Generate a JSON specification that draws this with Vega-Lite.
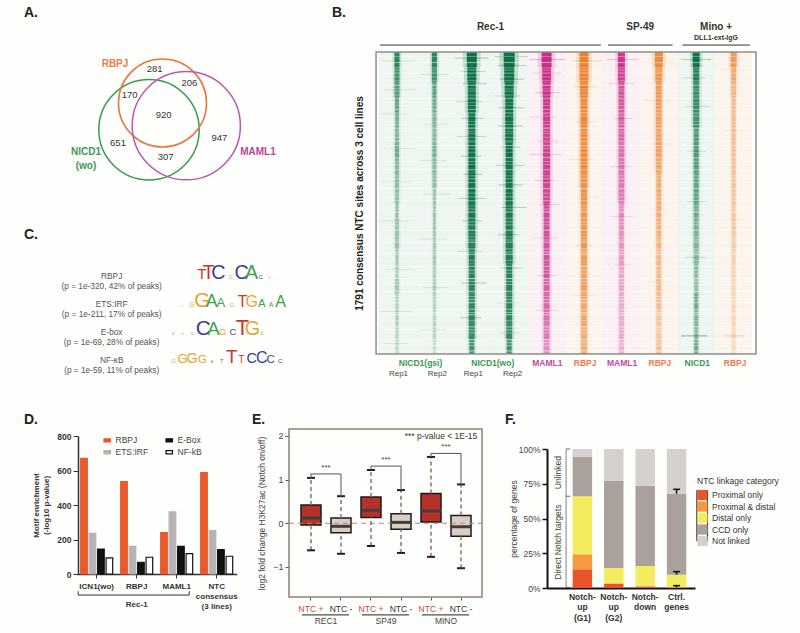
{"$schema":"https://vega.github.io/schema/vega-lite/v6.json","padding":0,"background":"#fefefc","spacing":0,
"resolve":{"scale":{"color":"independent","stroke":"independent","size":"independent","opacity":"independent","strokeWidth":"independent"}},
"config":{"view":{"stroke":null},"font":"Liberation Sans","axis":{"labelFont":"Liberation Sans","titleFont":"Liberation Sans"},"legend":{"labelFont":"Liberation Sans","titleFont":"Liberation Sans"},"title":{"font":"Liberation Sans","fontSize":14,"fontWeight":"bold","color":"#222","anchor":"start","frame":"group"}},
"datasets":{
"venn":[{"set":"NICD1","x":149,"y":129.7,"total":2048},{"set":"RBPJ","x":162.5,"y":103,"total":1577},{"set":"MAML1","x":186.3,"y":125.7,"total":2380}],
"counts":[{"n":"281","x":154.7,"y":69},{"n":"206","x":189.3,"y":83},{"n":"170","x":129.7,"y":94.7},{"n":"920","x":163.7,"y":115},{"n":"651","x":118,"y":143},{"n":"947","x":219.3,"y":137.7},{"n":"307","x":165.7,"y":156.7}],
"setnames":[{"set":"RBPJ","n":"RBPJ","x":115,"y":64.3},{"set":"NICD1","n":"NICD1","x":86,"y":152},{"set":"NICD1","n":"(wo)","x":86,"y":165.7},{"set":"MAML1","n":"MAML1","x":258,"y":152}],
"motiflabels":[{"line":0,"n":"RBPJ\n(p = 1e-320, 42% of peaks)"},{"line":1,"n":"ETS:IRF\n(p = 1e-211, 17% of peaks)"},{"line":2,"n":"E-box\n(p = 1e-69, 28% of peaks)"},{"line":3,"n":"NF-κB\n(p = 1e-59, 11% of peaks)"}],
"logo":[{"line":0,"p":2.3,"l":"A","h":0.15},{"line":0,"p":3.4,"l":"T","h":1.45},{"line":0,"p":4.1,"l":"T","h":1.9},{"line":0,"p":5.1,"l":"C","h":1.9},{"line":0,"p":6.4,"l":"G","h":0.5},{"line":0,"p":7.5,"l":"C","h":1.9},{"line":0,"p":8.55,"l":"A","h":1.9},{"line":0,"p":9.5,"l":"C","h":0.55},{"line":0,"p":10.4,"l":"G","h":0.3},{"line":0,"p":11.3,"l":"A","h":0.2},
{"line":1,"p":0.5,"l":"A","h":0.15},{"line":1,"p":1.3,"l":"C","h":0.15},{"line":1,"p":2.4,"l":"G","h":0.65},{"line":1,"p":3.45,"l":"G","h":2},{"line":1,"p":4.4,"l":"A","h":1.7},{"line":1,"p":5.35,"l":"A","h":1.25},{"line":1,"p":6.5,"l":"G","h":0.5},{"line":1,"p":7.6,"l":"T","h":1.55},{"line":1,"p":8.55,"l":"G","h":1.55},{"line":1,"p":9.6,"l":"A","h":1.1},{"line":1,"p":10.55,"l":"A","h":0.65},{"line":1,"p":11.55,"l":"A","h":1.55},
{"line":2,"p":0.45,"l":"C","h":0.3},{"line":2,"p":1.4,"l":"G","h":0.3},{"line":2,"p":2.4,"l":"C","h":0.3},{"line":2,"p":3.55,"l":"C","h":2},{"line":2,"p":4.6,"l":"A","h":1.8},{"line":2,"p":5.55,"l":"G","h":0.9},{"line":2,"p":6.6,"l":"C","h":0.9},{"line":2,"p":7.6,"l":"T","h":2.1},{"line":2,"p":8.62,"l":"G","h":1.9},{"line":2,"p":9.6,"l":"C","h":0.35},
{"line":3,"p":0.45,"l":"G","h":0.55},{"line":3,"p":1.4,"l":"G","h":1.25},{"line":3,"p":2.4,"l":"G","h":1.4},{"line":3,"p":3.45,"l":"G","h":1.1},{"line":3,"p":4.45,"l":"A","h":0.35},{"line":3,"p":5.45,"l":"T","h":0.55},{"line":3,"p":6.5,"l":"T","h":1.8},{"line":3,"p":7.5,"l":"T","h":1},{"line":3,"p":8.55,"l":"C","h":1.4},{"line":3,"p":9.6,"l":"C","h":1.55},{"line":3,"p":10.5,"l":"C","h":1.1},{"line":3,"p":11.5,"l":"C","h":0.6}],
"heat":[
{"t":0,"y":0,"z":1,"w":5,"v":0.8},{"t":0,"y":1,"z":2,"w":5,"v":0.7},{"t":0,"y":2,"z":3,"w":5,"v":0.6},{"t":0,"y":3,"z":4,"w":4,"v":0.55},{"t":0,"y":4,"z":5,"w":4,"v":0.45},{"t":0,"y":5,"z":6,"w":4,"v":0.42},{"t":0,"y":6,"z":7,"w":4,"v":0.5},{"t":0,"y":7,"z":8,"w":4,"v":0.4},{"t":0,"y":8,"z":9,"w":4,"v":0.38},{"t":0,"y":9,"z":10,"w":4,"v":0.35},{"t":0,"y":10,"z":11,"w":3,"v":0.36},{"t":0,"y":11,"z":12,"w":4,"v":0.3},{"t":0,"y":12,"z":13,"w":4,"v":0.33},{"t":0,"y":13,"z":14,"w":3,"v":0.3},{"t":0,"y":14,"z":15,"w":3,"v":0.25},{"t":0,"y":15,"z":16,"w":4,"v":0.28},{"t":0,"y":16,"z":17,"w":3,"v":0.22},{"t":0,"y":17,"z":18,"w":3,"v":0.25},{"t":0,"y":18,"z":19,"w":3,"v":0.2},{"t":0,"y":19,"z":20,"w":3,"v":0.18},
{"t":1,"y":0,"z":1,"w":5,"v":0.8},{"t":1,"y":1,"z":2,"w":5,"v":0.7},{"t":1,"y":2,"z":3,"w":4,"v":0.6},{"t":1,"y":3,"z":4,"w":4,"v":0.5},{"t":1,"y":4,"z":5,"w":4,"v":0.42},{"t":1,"y":5,"z":6,"w":4,"v":0.4},{"t":1,"y":6,"z":7,"w":4,"v":0.45},{"t":1,"y":7,"z":8,"w":4,"v":0.38},{"t":1,"y":8,"z":9,"w":4,"v":0.36},{"t":1,"y":9,"z":10,"w":3,"v":0.32},{"t":1,"y":10,"z":11,"w":3,"v":0.3},{"t":1,"y":11,"z":12,"w":3,"v":0.3},{"t":1,"y":12,"z":13,"w":3,"v":0.28},{"t":1,"y":13,"z":14,"w":3,"v":0.3},{"t":1,"y":14,"z":15,"w":3,"v":0.25},{"t":1,"y":15,"z":16,"w":3,"v":0.25},{"t":1,"y":16,"z":17,"w":3,"v":0.22},{"t":1,"y":17,"z":18,"w":3,"v":0.2},{"t":1,"y":18,"z":19,"w":3,"v":0.2},{"t":1,"y":19,"z":20,"w":3,"v":0.15},
{"t":2,"y":0,"z":1,"w":10,"v":0.98},{"t":2,"y":1,"z":2,"w":9,"v":0.98},{"t":2,"y":2,"z":3,"w":8,"v":0.97},{"t":2,"y":3,"z":4,"w":8,"v":0.97},{"t":2,"y":4,"z":5,"w":7,"v":0.96},{"t":2,"y":5,"z":6,"w":7,"v":0.95},{"t":2,"y":6,"z":7,"w":7,"v":0.95},{"t":2,"y":7,"z":8,"w":7,"v":0.95},{"t":2,"y":8,"z":9,"w":7,"v":0.93},{"t":2,"y":9,"z":10,"w":7,"v":0.93},{"t":2,"y":10,"z":11,"w":7,"v":0.92},{"t":2,"y":11,"z":12,"w":7,"v":0.88},{"t":2,"y":12,"z":13,"w":7,"v":0.85},{"t":2,"y":13,"z":14,"w":6,"v":0.85},{"t":2,"y":14,"z":15,"w":6,"v":0.82},{"t":2,"y":15,"z":16,"w":6,"v":0.8},{"t":2,"y":16,"z":17,"w":6,"v":0.78},{"t":2,"y":17,"z":18,"w":6,"v":0.8},{"t":2,"y":18,"z":19,"w":6,"v":0.75},{"t":2,"y":19,"z":20,"w":5,"v":0.7},
{"t":3,"y":0,"z":1,"w":11,"v":0.98},{"t":3,"y":1,"z":2,"w":10,"v":0.98},{"t":3,"y":2,"z":3,"w":9,"v":0.97},{"t":3,"y":3,"z":4,"w":8,"v":0.97},{"t":3,"y":4,"z":5,"w":8,"v":0.96},{"t":3,"y":5,"z":6,"w":8,"v":0.95},{"t":3,"y":6,"z":7,"w":7,"v":0.95},{"t":3,"y":7,"z":8,"w":7,"v":0.94},{"t":3,"y":8,"z":9,"w":7,"v":0.93},{"t":3,"y":9,"z":10,"w":7,"v":0.92},{"t":3,"y":10,"z":11,"w":7,"v":0.9},{"t":3,"y":11,"z":12,"w":7,"v":0.88},{"t":3,"y":12,"z":13,"w":7,"v":0.88},{"t":3,"y":13,"z":14,"w":7,"v":0.85},{"t":3,"y":14,"z":15,"w":6,"v":0.82},{"t":3,"y":15,"z":16,"w":6,"v":0.82},{"t":3,"y":16,"z":17,"w":6,"v":0.8},{"t":3,"y":17,"z":18,"w":6,"v":0.78},{"t":3,"y":18,"z":19,"w":6,"v":0.75},{"t":3,"y":19,"z":20,"w":5,"v":0.7},
{"t":4,"y":0,"z":1,"w":10,"v":0.9},{"t":4,"y":1,"z":2,"w":9,"v":0.9},{"t":4,"y":2,"z":3,"w":8,"v":0.88},{"t":4,"y":3,"z":4,"w":7,"v":0.85},{"t":4,"y":4,"z":5,"w":7,"v":0.82},{"t":4,"y":5,"z":6,"w":7,"v":0.8},{"t":4,"y":6,"z":7,"w":7,"v":0.78},{"t":4,"y":7,"z":8,"w":7,"v":0.8},{"t":4,"y":8,"z":9,"w":7,"v":0.78},{"t":4,"y":9,"z":10,"w":7,"v":0.75},{"t":4,"y":10,"z":11,"w":6,"v":0.75},{"t":4,"y":11,"z":12,"w":6,"v":0.72},{"t":4,"y":12,"z":13,"w":6,"v":0.7},{"t":4,"y":13,"z":14,"w":6,"v":0.68},{"t":4,"y":14,"z":15,"w":6,"v":0.68},{"t":4,"y":15,"z":16,"w":6,"v":0.62},{"t":4,"y":16,"z":17,"w":6,"v":0.6},{"t":4,"y":17,"z":18,"w":6,"v":0.55},{"t":4,"y":18,"z":19,"w":6,"v":0.5},{"t":4,"y":19,"z":20,"w":6,"v":0.42},
{"t":5,"y":0,"z":1,"w":9,"v":0.9},{"t":5,"y":1,"z":2,"w":9,"v":0.88},{"t":5,"y":2,"z":3,"w":8,"v":0.85},{"t":5,"y":3,"z":4,"w":7,"v":0.82},{"t":5,"y":4,"z":5,"w":7,"v":0.82},{"t":5,"y":5,"z":6,"w":7,"v":0.8},{"t":5,"y":6,"z":7,"w":7,"v":0.8},{"t":5,"y":7,"z":8,"w":7,"v":0.78},{"t":5,"y":8,"z":9,"w":7,"v":0.75},{"t":5,"y":9,"z":10,"w":6,"v":0.75},{"t":5,"y":10,"z":11,"w":6,"v":0.7},{"t":5,"y":11,"z":12,"w":6,"v":0.7},{"t":5,"y":12,"z":13,"w":6,"v":0.68},{"t":5,"y":13,"z":14,"w":6,"v":0.65},{"t":5,"y":14,"z":15,"w":6,"v":0.6},{"t":5,"y":15,"z":16,"w":6,"v":0.62},{"t":5,"y":16,"z":17,"w":6,"v":0.58},{"t":5,"y":17,"z":18,"w":6,"v":0.55},{"t":5,"y":18,"z":19,"w":6,"v":0.52},{"t":5,"y":19,"z":20,"w":6,"v":0.5},
{"t":6,"y":0,"z":1,"w":7,"v":0.85},{"t":6,"y":1,"z":2,"w":7,"v":0.8},{"t":6,"y":2,"z":3,"w":6,"v":0.7},{"t":6,"y":3,"z":4,"w":6,"v":0.68},{"t":6,"y":4,"z":5,"w":6,"v":0.62},{"t":6,"y":5,"z":6,"w":6,"v":0.6},{"t":6,"y":6,"z":7,"w":6,"v":0.55},{"t":6,"y":7,"z":8,"w":6,"v":0.52},{"t":6,"y":8,"z":9,"w":6,"v":0.5},{"t":6,"y":9,"z":10,"w":6,"v":0.5},{"t":6,"y":10,"z":11,"w":5,"v":0.42},{"t":6,"y":11,"z":12,"w":5,"v":0.4},{"t":6,"y":12,"z":13,"w":5,"v":0.38},{"t":6,"y":13,"z":14,"w":5,"v":0.35},{"t":6,"y":14,"z":15,"w":5,"v":0.3},{"t":6,"y":15,"z":16,"w":5,"v":0.3},{"t":6,"y":16,"z":17,"w":5,"v":0.28},{"t":6,"y":17,"z":18,"w":5,"v":0.28},{"t":6,"y":18,"z":19,"w":5,"v":0.28},{"t":6,"y":19,"z":20,"w":5,"v":0.25},
{"t":7,"y":0,"z":1,"w":8,"v":0.8},{"t":7,"y":1,"z":2,"w":7,"v":0.72},{"t":7,"y":2,"z":3,"w":6,"v":0.68},{"t":7,"y":3,"z":4,"w":6,"v":0.65},{"t":7,"y":4,"z":5,"w":6,"v":0.62},{"t":7,"y":5,"z":6,"w":6,"v":0.6},{"t":7,"y":6,"z":7,"w":6,"v":0.6},{"t":7,"y":7,"z":8,"w":6,"v":0.55},{"t":7,"y":8,"z":9,"w":5,"v":0.52},{"t":7,"y":9,"z":10,"w":5,"v":0.52},{"t":7,"y":10,"z":11,"w":5,"v":0.5},{"t":7,"y":11,"z":12,"w":5,"v":0.48},{"t":7,"y":12,"z":13,"w":5,"v":0.45},{"t":7,"y":13,"z":14,"w":5,"v":0.42},{"t":7,"y":14,"z":15,"w":5,"v":0.4},{"t":7,"y":15,"z":16,"w":5,"v":0.4},{"t":7,"y":16,"z":17,"w":5,"v":0.38},{"t":7,"y":17,"z":18,"w":5,"v":0.32},{"t":7,"y":18,"z":19,"w":5,"v":0.3},{"t":7,"y":19,"z":20,"w":5,"v":0.35},
{"t":8,"y":0,"z":1,"w":7,"v":0.95},{"t":8,"y":1,"z":2,"w":6,"v":0.85},{"t":8,"y":2,"z":3,"w":6,"v":0.75},{"t":8,"y":3,"z":4,"w":6,"v":0.75},{"t":8,"y":4,"z":5,"w":6,"v":0.7},{"t":8,"y":5,"z":6,"w":5,"v":0.65},{"t":8,"y":6,"z":7,"w":5,"v":0.65},{"t":8,"y":7,"z":8,"w":5,"v":0.6},{"t":8,"y":8,"z":9,"w":5,"v":0.55},{"t":8,"y":9,"z":10,"w":5,"v":0.55},{"t":8,"y":10,"z":11,"w":5,"v":0.5},{"t":8,"y":11,"z":12,"w":5,"v":0.45},{"t":8,"y":12,"z":13,"w":5,"v":0.42},{"t":8,"y":13,"z":14,"w":5,"v":0.4},{"t":8,"y":14,"z":15,"w":4,"v":0.38},{"t":8,"y":15,"z":16,"w":4,"v":0.35},{"t":8,"y":16,"z":17,"w":4,"v":0.5},{"t":8,"y":17,"z":18,"w":4,"v":0.42},{"t":8,"y":18,"z":19,"w":4,"v":0.4},{"t":8,"y":19,"z":20,"w":4,"v":0.5},
{"t":9,"y":0,"z":1,"w":6,"v":0.65},{"t":9,"y":1,"z":2,"w":5,"v":0.55},{"t":9,"y":2,"z":3,"w":5,"v":0.45},{"t":9,"y":3,"z":4,"w":4,"v":0.42},{"t":9,"y":4,"z":5,"w":4,"v":0.4},{"t":9,"y":5,"z":6,"w":4,"v":0.4},{"t":9,"y":6,"z":7,"w":4,"v":0.38},{"t":9,"y":7,"z":8,"w":4,"v":0.35},{"t":9,"y":8,"z":9,"w":4,"v":0.35},{"t":9,"y":9,"z":10,"w":4,"v":0.33},{"t":9,"y":10,"z":11,"w":4,"v":0.32},{"t":9,"y":11,"z":12,"w":4,"v":0.3},{"t":9,"y":12,"z":13,"w":4,"v":0.28},{"t":9,"y":13,"z":14,"w":4,"v":0.25},{"t":9,"y":14,"z":15,"w":4,"v":0.22},{"t":9,"y":15,"z":16,"w":4,"v":0.2},{"t":9,"y":16,"z":17,"w":4,"v":0.2},{"t":9,"y":17,"z":18,"w":4,"v":0.2},{"t":9,"y":18,"z":19,"w":4,"v":0.2},{"t":9,"y":19,"z":20,"w":4,"v":0.18}],
"spikes":[{"t":2,"a":1.55,"b":2.45,"s":0.4,"o":0.5},{"t":3,"a":2.6,"b":3.5,"s":0.3,"o":0.55},{"t":3,"a":2.7,"b":3.45,"s":0.9,"o":0.4},{"t":2,"a":1.7,"b":2.35,"s":1.3,"o":0.4},{"t":3,"a":2.75,"b":3.4,"s":1.8,"o":0.5},{"t":2,"a":1.75,"b":2.4,"s":2.1,"o":0.45},{"t":3,"a":2.6,"b":3.3,"s":2.9,"o":0.35},{"t":2,"a":1.6,"b":2.3,"s":3.3,"o":0.4},{"t":3,"a":2.72,"b":3.4,"s":3.7,"o":0.5},{"t":2,"a":1.72,"b":2.3,"s":4.4,"o":0.45},{"t":3,"a":2.7,"b":3.35,"s":4.9,"o":0.5},{"t":2,"a":1.6,"b":2.38,"s":5.6,"o":0.35},{"t":3,"a":2.78,"b":3.3,"s":6.3,"o":0.4},{"t":2,"a":1.7,"b":2.25,"s":6.9,"o":0.45},{"t":3,"a":2.65,"b":3.42,"s":7.5,"o":0.45},{"t":2,"a":1.78,"b":2.28,"s":8.1,"o":0.5},{"t":3,"a":2.72,"b":3.35,"s":8.8,"o":0.5},{"t":2,"a":1.65,"b":2.36,"s":9.7,"o":0.4},{"t":3,"a":2.8,"b":3.45,"s":10.3,"o":0.45},{"t":2,"a":1.75,"b":2.28,"s":11.2,"o":0.5},{"t":3,"a":2.7,"b":3.25,"s":12.1,"o":0.45},{"t":2,"a":1.62,"b":2.3,"s":13.2,"o":0.4},{"t":3,"a":2.76,"b":3.35,"s":14.3,"o":0.4},{"t":2,"a":1.72,"b":2.4,"s":15.3,"o":0.45},{"t":3,"a":2.68,"b":3.28,"s":16.6,"o":0.35},{"t":2,"a":1.7,"b":2.25,"s":17.6,"o":0.45},{"t":3,"a":2.76,"b":3.3,"s":18.6,"o":0.35},
{"t":0,"a":-0.4,"b":0.45,"s":0.6,"o":0.2},{"t":1,"a":0.65,"b":1.4,"s":1.5,"o":0.22},{"t":0,"a":-0.35,"b":0.5,"s":2.5,"o":0.2},{"t":0,"a":-0.45,"b":0.3,"s":4.1,"o":0.22},{"t":1,"a":0.7,"b":1.35,"s":4.8,"o":0.2},{"t":0,"a":-0.2,"b":0.5,"s":6.4,"o":0.25},{"t":1,"a":0.6,"b":1.3,"s":7.2,"o":0.2},{"t":0,"a":-0.4,"b":0.4,"s":8.6,"o":0.18},{"t":1,"a":0.7,"b":1.45,"s":9.4,"o":0.2},{"t":0,"a":-0.5,"b":0.35,"s":11.2,"o":0.22},{"t":1,"a":0.6,"b":1.3,"s":12.4,"o":0.2},{"t":0,"a":-0.3,"b":0.45,"s":14.4,"o":0.2},{"t":1,"a":0.7,"b":1.35,"s":15.6,"o":0.2},{"t":0,"a":-0.45,"b":0.4,"s":17.2,"o":0.22},{"t":1,"a":0.65,"b":1.3,"s":18.4,"o":0.2},{"t":0,"a":-0.35,"b":0.3,"s":19.3,"o":0.22},
{"t":4,"a":3.55,"b":4.5,"s":0.5,"o":0.5},{"t":4,"a":3.6,"b":4.4,"s":1.4,"o":0.35},{"t":4,"a":3.7,"b":4.35,"s":2.7,"o":0.4},{"t":4,"a":3.55,"b":4.25,"s":4.3,"o":0.35},{"t":4,"a":3.75,"b":4.3,"s":5.9,"o":0.45},{"t":4,"a":3.55,"b":4.4,"s":6.8,"o":0.35},{"t":4,"a":3.7,"b":4.25,"s":8.5,"o":0.35},{"t":4,"a":3.8,"b":4.35,"s":10.1,"o":0.35},{"t":4,"a":3.65,"b":4.3,"s":12.3,"o":0.3},{"t":4,"a":3.75,"b":4.25,"s":14.8,"o":0.3},{"t":4,"a":3.7,"b":4.3,"s":17.1,"o":0.3},
{"t":5,"a":4.65,"b":5.5,"s":0.6,"o":0.4},{"t":5,"a":4.7,"b":5.35,"s":2.3,"o":0.35},{"t":5,"a":4.75,"b":5.3,"s":4.6,"o":0.3},{"t":5,"a":4.6,"b":5.25,"s":7.1,"o":0.3},{"t":5,"a":4.8,"b":5.4,"s":9.6,"o":0.3},{"t":5,"a":4.75,"b":5.25,"s":12.8,"o":0.28},{"t":5,"a":4.7,"b":5.3,"s":16.1,"o":0.25},
{"t":6,"a":5.6,"b":6.45,"s":0.5,"o":0.4},{"t":6,"a":5.65,"b":6.35,"s":2.1,"o":0.3},{"t":6,"a":5.8,"b":6.3,"s":4.4,"o":0.3},{"t":6,"a":5.7,"b":6.25,"s":7.6,"o":0.3},{"t":6,"a":5.75,"b":6.3,"s":10.9,"o":0.25},{"t":6,"a":5.8,"b":6.25,"s":14.1,"o":0.22},
{"t":7,"a":6.55,"b":7.45,"s":0.7,"o":0.35},{"t":7,"a":6.6,"b":7.3,"s":3.2,"o":0.28},{"t":7,"a":6.8,"b":7.3,"s":6.1,"o":0.28},{"t":7,"a":6.75,"b":7.25,"s":10.4,"o":0.25},{"t":7,"a":6.7,"b":7.3,"s":15.2,"o":0.22},
{"t":8,"a":7.6,"b":8.4,"s":0.5,"o":0.45},{"t":8,"a":7.65,"b":8.25,"s":1.7,"o":0.3},{"t":8,"a":7.7,"b":8.35,"s":3.6,"o":0.3},{"t":8,"a":7.75,"b":8.25,"s":6.6,"o":0.3},{"t":8,"a":7.75,"b":8.3,"s":9.9,"o":0.28},{"t":8,"a":7.7,"b":8.25,"s":13.6,"o":0.28},{"t":8,"a":7.6,"b":8.3,"s":18.8,"o":0.8},{"t":9,"a":8.75,"b":9.3,"s":18.8,"o":0.5},{"t":9,"a":8.65,"b":9.4,"s":1.2,"o":0.25},{"t":9,"a":8.7,"b":9.35,"s":5.2,"o":0.2},{"t":9,"a":8.8,"b":9.3,"s":11.1,"o":0.18}],
"streaks":[{"s":0.3,"o":0.3},{"s":0.7,"o":0.5},{"s":1.05,"o":0.25},{"s":1.2,"o":0.3},{"s":1.4,"o":0.45},{"s":1.65,"o":0.3},{"s":1.9,"o":0.3},{"s":2.2,"o":0.55},{"s":2.45,"o":0.3},{"s":2.6,"o":0.3},{"s":2.85,"o":0.35},{"s":3.1,"o":0.4},{"s":3.35,"o":0.25},{"s":3.55,"o":0.3},{"s":3.8,"o":0.5},{"s":4.05,"o":0.35},{"s":4.25,"o":0.35},{"s":4.6,"o":0.25},{"s":4.8,"o":0.35},{"s":5.05,"o":0.5},{"s":5.25,"o":0.3},{"s":5.4,"o":0.3},{"s":5.65,"o":0.35},{"s":5.9,"o":0.4},{"s":6.2,"o":0.55},{"s":6.4,"o":0.3},{"s":6.65,"o":0.25},{"s":7.0,"o":0.45},{"s":7.25,"o":0.35},{"s":7.45,"o":0.3},{"s":7.8,"o":0.5},{"s":8.2,"o":0.3},{"s":8.4,"o":0.4},{"s":8.65,"o":0.4},{"s":9.05,"o":0.55},{"s":9.35,"o":0.3},{"s":9.6,"o":0.4},{"s":9.85,"o":0.45},{"s":10.2,"o":0.3},{"s":10.4,"o":0.4},{"s":10.6,"o":0.6},{"s":11.0,"o":0.35},{"s":11.25,"o":0.4},{"s":11.45,"o":0.4},{"s":11.8,"o":0.6},{"s":12.25,"o":0.3},{"s":12.45,"o":0.4},{"s":12.6,"o":0.5},{"s":13.05,"o":0.35},{"s":13.25,"o":0.45},{"s":13.4,"o":0.6},{"s":13.8,"o":0.3},{"s":14.2,"o":0.5},{"s":14.45,"o":0.4},{"s":14.65,"o":0.35},{"s":15.0,"o":0.6},{"s":15.2,"o":0.4},{"s":15.4,"o":0.4},{"s":15.85,"o":0.55},{"s":16.2,"o":0.35},{"s":16.4,"o":0.45},{"s":16.6,"o":0.6},{"s":17.05,"o":0.4},{"s":17.25,"o":0.45},{"s":17.4,"o":0.6},{"s":17.8,"o":0.35},{"s":18.2,"o":0.55},{"s":18.4,"o":0.45},{"s":18.6,"o":0.4},{"s":19.05,"o":0.6},{"s":19.25,"o":0.5},{"s":19.45,"o":0.45},{"s":19.8,"o":0.6}],
"tracklabels":[{"n":"NICD1(gsi)","c":"g","p":0.63},{"n":"NICD1(wo)","c":"g","p":2.56},{"n":"MAML1","c":"m","p":4.02},{"n":"RBPJ","c":"o","p":5.03},{"n":"MAML1","c":"m","p":6.02},{"n":"RBPJ","c":"o","p":7.03},{"n":"NICD1","c":"g","p":8.03},{"n":"RBPJ","c":"o","p":9.04}],
"reps":[{"n":"Rep1","p":0.04},{"n":"Rep2","p":1.08},{"n":"Rep1","p":2.04},{"n":"Rep2","p":3.09}],
"headers":[{"n":"Rec-1","a":-0.45,"b":5.45,"p":2.5},{"n":"SP-49","a":5.64,"b":7.37,"p":6.5},{"n":"Mino +","a":7.63,"b":9.44,"p":8.53}],
"motif":[{"group":"ICN1(wo)","series":"RBPJ","value":670},{"group":"ICN1(wo)","series":"ETS:IRF","value":235},{"group":"ICN1(wo)","series":"E-Box","value":145},{"group":"ICN1(wo)","series":"NF-kB","value":93},{"group":"RBPJ","series":"RBPJ","value":535},{"group":"RBPJ","series":"ETS:IRF","value":160},{"group":"RBPJ","series":"E-Box","value":68},{"group":"RBPJ","series":"NF-kB","value":97},{"group":"MAML1","series":"RBPJ","value":240},{"group":"MAML1","series":"ETS:IRF","value":360},{"group":"MAML1","series":"E-Box","value":160},{"group":"MAML1","series":"NF-kB","value":118},{"group":"NTC|consensus|(3 lines)","series":"RBPJ","value":588},{"group":"NTC|consensus|(3 lines)","series":"ETS:IRF","value":252},{"group":"NTC|consensus|(3 lines)","series":"E-Box","value":142},{"group":"NTC|consensus|(3 lines)","series":"NF-kB","value":103}],
"box":[{"k":"REC1|NTC +","cls":"NTC +","lo":-0.62,"q1":-0.04,"med":0.12,"q3":0.42,"hi":1.04},{"k":"REC1|NTC -","cls":"NTC -","lo":-0.7,"q1":-0.22,"med":-0.07,"q3":0.12,"hi":0.62},{"k":"SP49|NTC +","cls":"NTC +","lo":-0.52,"q1":0.13,"med":0.3,"q3":0.6,"hi":1.22},{"k":"SP49|NTC -","cls":"NTC -","lo":-0.68,"q1":-0.14,"med":0.02,"q3":0.22,"hi":0.76},{"k":"MINO|NTC +","cls":"NTC +","lo":-0.77,"q1":0.03,"med":0.28,"q3":0.68,"hi":1.52},{"k":"MINO|NTC -","cls":"NTC -","lo":-1.03,"q1":-0.3,"med":-0.08,"q3":0.18,"hi":0.89}],
"sig":[{"a":"REC1|NTC +","b":"REC1|NTC -","top":1.13,"dl":1.04,"dr":0.62,"line":"REC1"},{"a":"SP49|NTC +","b":"SP49|NTC -","top":1.31,"dl":1.22,"dr":0.76,"line":"SP49"},{"a":"MINO|NTC +","b":"MINO|NTC -","top":1.6,"dl":1.52,"dr":0.89,"line":"MINO"}],
"stack":[{"g":"Notch-|up|(G1)","c":"Proximal only","v":0.135,"o":1},{"g":"Notch-|up|(G1)","c":"Proximal & distal","v":0.108,"o":2},{"g":"Notch-|up|(G1)","c":"Distal only","v":0.417,"o":3},{"g":"Notch-|up|(G1)","c":"CCD only","v":0.285,"o":4},{"g":"Notch-|up|(G1)","c":"Not linked","v":0.055,"o":5},{"g":"Notch-|up|(G2)","c":"Proximal only","v":0.03,"o":1},{"g":"Notch-|up|(G2)","c":"Proximal & distal","v":0.004,"o":2},{"g":"Notch-|up|(G2)","c":"Distal only","v":0.11,"o":3},{"g":"Notch-|up|(G2)","c":"CCD only","v":0.626,"o":4},{"g":"Notch-|up|(G2)","c":"Not linked","v":0.23,"o":5},{"g":"Notch-|down","c":"Proximal only","v":0.012,"o":1},{"g":"Notch-|down","c":"Distal only","v":0.147,"o":3},{"g":"Notch-|down","c":"CCD only","v":0.577,"o":4},{"g":"Notch-|down","c":"Not linked","v":0.264,"o":5},{"g":"Ctrl.|genes","c":"Proximal only","v":0.005,"o":1},{"g":"Ctrl.|genes","c":"Distal only","v":0.091,"o":3},{"g":"Ctrl.|genes","c":"CCD only","v":0.582,"o":4},{"g":"Ctrl.|genes","c":"Not linked","v":0.322,"o":5}],
"err":[{"g":"Ctrl.|genes","lo":0.678,"hi":0.71},{"g":"Ctrl.|genes","lo":0.096,"hi":0.118},{"g":"Ctrl.|genes","lo":0.005,"hi":0.017}]
},
"vconcat":[
{"bounds":"flush","spacing":0,"resolve":{"scale":{"color":"independent","stroke":"independent","size":"independent","opacity":"independent","strokeWidth":"independent"}},"hconcat":[
{"width":376,"height":410,"title":{"text":"A.","dx":24,"offset":-20},
"resolve":{"scale":{"x":"independent","y":"independent","color":"independent","size":"independent"}},
"layer":[
{"data":{"name":"venn"},"mark":{"type":"point","filled":false,"strokeWidth":1.5,"opacity":1},"encoding":{"x":{"field":"x","type":"quantitative","scale":{"domain":[0,376],"range":[0,376]},"axis":null},"y":{"field":"y","type":"quantitative","scale":{"domain":[0,410],"range":[0,410]},"axis":null},"size":{"field":"total","type":"quantitative","scale":{"domain":[0,2400],"range":[0,11808]},"legend":null},"color":{"field":"set","type":"nominal","scale":{"domain":["NICD1","RBPJ","MAML1"],"range":["#3a9a4e","#ee7440","#b85bb0"]},"legend":null}}},
{"data":{"name":"counts"},"mark":{"type":"text","fontSize":9.5,"color":"#333"},"encoding":{"x":{"field":"x","type":"quantitative","scale":{"domain":[0,376],"range":[0,376]},"axis":null},"y":{"field":"y","type":"quantitative","scale":{"domain":[0,410],"range":[0,410]},"axis":null},"text":{"field":"n"}}},
{"data":{"name":"setnames"},"mark":{"type":"text","fontSize":10,"fontWeight":"bold"},"encoding":{"x":{"field":"x","type":"quantitative","scale":{"domain":[0,376],"range":[0,376]},"axis":null},"y":{"field":"y","type":"quantitative","scale":{"domain":[0,410],"range":[0,410]},"axis":null},"text":{"field":"n"},"color":{"field":"set","type":"nominal","scale":{"domain":["NICD1","RBPJ","MAML1"],"range":["#3a9a55","#ef7a4a","#b9459c"]},"legend":null}}},
{"data":{"name":"motiflabels"},"mark":{"type":"text","fontSize":8.3,"color":"#555","lineBreak":"\n","lineHeight":10,"baseline":"bottom","dy":2},"encoding":{"x":{"datum":-5.93,"type":"quantitative","scale":{"domain":[0,12],"range":[169,285]},"axis":null},"y":{"field":"line","type":"quantitative","scale":{"domain":[0,3],"range":[279,363]},"axis":null},"text":{"field":"n"}}},
{"data":{"name":"logo"},"mark":{"type":"text","baseline":"alphabetic"},"encoding":{"x":{"field":"p","type":"quantitative","scale":{"domain":[0,12],"range":[169,285]},"axis":null},"y":{"field":"line","type":"quantitative","scale":{"domain":[0,3],"range":[279,363]},"axis":null},"text":{"field":"l"},"size":{"field":"h","type":"quantitative","scale":{"domain":[0,2],"range":[0,20.8]},"legend":null},"color":{"field":"l","type":"nominal","scale":{"domain":["A","C","G","T"],"range":["#3fa34d","#3b3f94","#e8a42c","#c43a34"]},"legend":null}}},
{"data":{"values":[{"line":-1.58,"p":-15,"n":"C."}]},"mark":{"type":"text","fontSize":14,"fontWeight":"bold","color":"#222","align":"left"},"encoding":{"x":{"field":"p","type":"quantitative","scale":{"domain":[0,12],"range":[169,285]},"axis":null},"y":{"field":"line","type":"quantitative","scale":{"domain":[0,3],"range":[279,363]},"axis":null},"text":{"field":"n"}}}
]},
{"width":424,"height":410,"title":{"text":"B.","dx":-44,"offset":-20},
"resolve":{"scale":{"color":"independent","opacity":"independent","strokeWidth":"independent"},"axis":{"x":"independent","y":"independent"}},
"layer":[
{"data":{"name":"heat"},"mark":{"type":"rule","opacity":0.07,"strokeCap":"butt","strokeWidth":37.4},"encoding":{"x":{"field":"t","type":"quantitative","scale":{"domain":[0,9],"range":[21,357.6]},"axis":null},"y":{"field":"y","type":"quantitative","scale":{"domain":[0,20],"range":[52,354]},"axis":{"title":"1791 consensus NTC sites across 3 cell lines","labels":false,"ticks":false,"domain":false,"grid":false,"titleFontSize":10,"titleFontWeight":"bold","titleColor":"#222","titlePadding":12}},"y2":{"field":"z"},"color":{"field":"t","type":"nominal","scale":{"domain":[0,1,2,3,4,5,6,7,8,9],"range":["#0b7a4b","#0b7a4b","#0b7a4b","#0b7a4b","#d0308a","#e8781f","#d0308a","#e8781f","#0b7a4b","#e8781f"]},"legend":null}}},
{"data":{"name":"heat"},"mark":{"type":"rule","strokeCap":"butt"},"encoding":{"x":{"field":"t","type":"quantitative","axis":null},"y":{"field":"y","type":"quantitative","axis":null},"y2":{"field":"z"},"color":{"field":"t","type":"nominal","scale":{"domain":[0,1,2,3,4,5,6,7,8,9],"range":["#0b7a4b","#0b7a4b","#0b7a4b","#0b7a4b","#d0308a","#e8781f","#d0308a","#e8781f","#0b7a4b","#e8781f"]},"legend":null},"strokeWidth":{"field":"w","type":"quantitative","scale":{"domain":[0,12],"range":[0,21]},"legend":null},"opacity":{"field":"v","type":"quantitative","scale":{"domain":[0,1],"range":[0,0.22]},"legend":null}}},
{"data":{"name":"heat"},"mark":{"type":"rule","strokeCap":"butt"},"encoding":{"x":{"field":"t","type":"quantitative","axis":null},"y":{"field":"y","type":"quantitative","axis":null},"y2":{"field":"z"},"color":{"field":"t","type":"nominal","scale":{"domain":[0,1,2,3,4,5,6,7,8,9],"range":["#0b6e45","#0b6e45","#0b6e45","#0b6e45","#c4207f","#e8781f","#c4207f","#e8781f","#0b6e45","#e8781f"]},"legend":null},"strokeWidth":{"field":"w","type":"quantitative","scale":null,"legend":null},"opacity":{"field":"v","type":"quantitative","scale":{"domain":[0,1],"range":[0,1]},"legend":null}}},
{"data":{"name":"spikes"},"mark":{"type":"rule","strokeWidth":1},"encoding":{"x":{"field":"a","type":"quantitative","axis":null},"x2":{"field":"b"},"y":{"field":"s","type":"quantitative","axis":null},"color":{"field":"t","type":"nominal","scale":{"domain":[0,1,2,3,4,5,6,7,8,9],"range":["#0b6e45","#0b6e45","#0b6e45","#0b6e45","#c4207f","#e8781f","#c4207f","#e8781f","#0b6e45","#e8781f"]},"legend":null},"opacity":{"field":"o","type":"quantitative","scale":{"domain":[0,1],"range":[0,0.6]},"legend":null}}},
{"data":{"name":"streaks"},"mark":{"type":"rule","color":"#ffffff","strokeWidth":1},"encoding":{"x":{"datum":-0.56,"type":"quantitative","axis":null},"x2":{"datum":9.6},"y":{"field":"s","type":"quantitative","axis":null},"opacity":{"field":"o","type":"quantitative","scale":{"domain":[0,1],"range":[0,1]},"legend":null}}},
{"data":{"values":[{"a":-0.56,"b":9.6,"y":0,"z":20}]},"mark":{"type":"rect","fill":"transparent","stroke":"#8f8f8f","strokeWidth":1.5},"encoding":{"x":{"field":"a","type":"quantitative","axis":null},"x2":{"field":"b"},"y":{"field":"y","type":"quantitative","axis":null},"y2":{"field":"z"}}},
{"data":{"name":"tracklabels"},"mark":{"type":"text","fontSize":8.5,"fontWeight":"bold"},"encoding":{"x":{"field":"p","type":"quantitative","axis":null},"y":{"datum":20.58,"type":"quantitative","axis":null},"text":{"field":"n"},"color":{"field":"c","type":"nominal","scale":{"domain":["g","m","o"],"range":["#3a9a55","#c24a9e","#ef7a4a"]},"legend":null}}},
{"data":{"name":"reps"},"mark":{"type":"text","fontSize":8,"color":"#444"},"encoding":{"x":{"field":"p","type":"quantitative","axis":null},"y":{"datum":21.33,"type":"quantitative","axis":null},"text":{"field":"n"}}},
{"data":{"name":"headers"},"mark":{"type":"rule","color":"#333","strokeWidth":1},"encoding":{"x":{"field":"a","type":"quantitative","axis":null},"x2":{"field":"b"},"y":{"datum":-0.46,"type":"quantitative","axis":null}}},
{"data":{"name":"headers"},"mark":{"type":"text","fontSize":10,"fontWeight":"bold","color":"#333"},"encoding":{"x":{"field":"p","type":"quantitative","axis":null},"y":{"datum":-1.66,"type":"quantitative","axis":null},"text":{"field":"n"}}},
{"data":{"values":[{"p":8.53,"n":"DLL1-ext-IgG"}]},"mark":{"type":"text","fontSize":7,"fontWeight":"bold","color":"#333"},"encoding":{"x":{"field":"p","type":"quantitative","axis":null},"y":{"datum":-0.93,"type":"quantitative","axis":null},"text":{"field":"n"}}}
]}]},
{"bounds":"flush","spacing":0,"resolve":{"scale":{"color":"independent","stroke":"independent"}},"hconcat":[
{"width":240,"height":223,"title":{"text":"D.","dx":24,"offset":-17},
"resolve":{"axis":{"x":"independent","y":"independent"}},
"layer":[
{"data":{"name":"motif"},"mark":{"type":"bar","strokeWidth":1.2},"encoding":{"x":{"field":"group","type":"nominal","sort":null,"scale":{"domain":["ICN1(wo)","RBPJ","MAML1","NTC|consensus|(3 lines)"],"range":[76.7,236.7],"paddingInner":0.2,"paddingOuter":0.1},"axis":{"title":null,"offset":-59,"labelAngle":0,"labelFontWeight":"bold","labelFontSize":8,"labelColor":"#333","domainColor":"#333","domainWidth":1.5,"tickColor":"#333","tickSize":4,"labelPadding":4,"labelExpr":"split(datum.value,'|')"}},"xOffset":{"field":"series","type":"nominal","sort":["RBPJ","ETS:IRF","E-Box","NF-kB"],"scale":{"paddingInner":0.22}},"y":{"field":"value","type":"quantitative","scale":{"domain":[0,800],"range":[164,26],"nice":false},"axis":{"title":["Motif enrichment","(-log10 p-value)"],"offset":-78,"values":[0,200,400,600,800],"grid":false,"labelFontWeight":"bold","labelFontSize":8.5,"labelColor":"#333","titleFontSize":8,"titleFontWeight":"bold","titleColor":"#333","domainColor":"#333","domainWidth":1.5,"tickColor":"#333","titlePadding":6,"titleLineHeight":10}},"color":{"field":"series","type":"nominal","scale":{"domain":["RBPJ","ETS:IRF","E-Box","NF-kB"],"range":["#e85a2c","#b9b2b4","#111111","#ffffff"]},"legend":{"title":null,"orient":"none","legendX":103,"legendY":26,"columns":2,"symbolType":"M-1,-0.5H1V0.5H-1Z","symbolSize":42,"labelFontSize":8.5,"labelColor":"#444","columnPadding":14,"rowPadding":3,"symbolStrokeWidth":1.2}},"stroke":{"field":"series","type":"nominal","scale":{"domain":["RBPJ","ETS:IRF","E-Box","NF-kB"],"range":["#e85a2c","#b9b2b4","#111111","#111111"]},"legend":null}}},
{"data":{"values":[{"a":"ICN1(wo)","b":"MAML1"}]},"mark":{"type":"rule","color":"#333","strokeWidth":1,"xOffset":-18.5,"x2Offset":12.5},"encoding":{"x":{"field":"a","type":"nominal","axis":null},"x2":{"field":"b"},"y":{"datum":-122,"type":"quantitative","axis":null}}},
{"data":{"values":[{"a":"ICN1(wo)","yy":-122,"yz":-100}]},"mark":{"type":"rule","color":"#333","strokeWidth":1,"xOffset":-18.5},"encoding":{"x":{"field":"a","type":"nominal","axis":null},"y":{"field":"yy","type":"quantitative","axis":null},"y2":{"field":"yz"}}},
{"data":{"values":[{"a":"MAML1","yy":-122,"yz":-100}]},"mark":{"type":"rule","color":"#333","strokeWidth":1,"xOffset":12.5},"encoding":{"x":{"field":"a","type":"nominal","axis":null},"y":{"field":"yy","type":"quantitative","axis":null},"y2":{"field":"yz"}}},
{"data":{"values":[{"a":"RBPJ","n":"Rec-1"}]},"mark":{"type":"text","fontSize":8,"fontWeight":"bold","color":"#333"},"encoding":{"x":{"field":"a","type":"nominal","axis":null},"y":{"datum":-180,"type":"quantitative","axis":null},"text":{"field":"n"}}}
]},
{"width":280,"height":223,"title":{"text":"E.","dx":12,"offset":-17},
"resolve":{"axis":{"x":"independent","y":"independent"}},
"layer":[
{"data":{"name":"box"},"mark":{"type":"bar","size":20,"stroke":"#1a1a1a","strokeWidth":1.5},"encoding":{"x":{"field":"k","type":"nominal","sort":null,"scale":{"domain":["REC1|NTC +","REC1|NTC -","SP49|NTC +","SP49|NTC -","MINO|NTC +","MINO|NTC -"],"range":[49,243],"paddingInner":0,"paddingOuter":0.233},"axis":{"title":null,"offset":-36,"labelAngle":0,"domain":false,"labelFontSize":8.5,"labelExpr":"split(datum.value,'|')[1]","labelColor":{"condition":{"test":"indexof(datum.value,'+')>=0","value":"#c8473d"},"value":"#333"},"tickColor":"#555","tickSize":3,"labelPadding":4}},"y":{"field":"q1","type":"quantitative","scale":{"domain":[-1.69,2.16],"range":[187,19],"nice":false},"axis":{"title":"log2 fold change H3K27ac (Notch on/off)","offset":-49,"values":[-1,0,1,2],"grid":false,"domain":false,"tickColor":"#555","tickSize":4,"labelFontSize":9,"labelColor":"#444","titleFontSize":8.5,"titleFontWeight":"normal","titleColor":"#444","titlePadding":6}},"y2":{"field":"q3"},"color":{"field":"cls","type":"nominal","scale":{"domain":["NTC +","NTC -"],"range":["#b5322a","#d6cfc7"]},"legend":null}}},
{"data":{"values":[{"a":"REC1|NTC +","b":"MINO|NTC -","lo":-1.69,"hi":2.16}]},"mark":{"type":"rect","fill":"transparent","stroke":"#8a8279","strokeWidth":1.5,"xOffset":-22,"x2Offset":21},"encoding":{"x":{"field":"a","type":"nominal","axis":null},"x2":{"field":"b"},"y":{"field":"lo","type":"quantitative","axis":null},"y2":{"field":"hi"}}},
{"data":{"values":[{"a":"REC1|NTC +","b":"MINO|NTC -","z":0}]},"mark":{"type":"rule","stroke":"#b08a7c","strokeWidth":1,"strokeDash":[5,4],"xOffset":-22,"x2Offset":21},"encoding":{"x":{"field":"a","type":"nominal","axis":null},"x2":{"field":"b"},"y":{"field":"z","type":"quantitative","axis":null}}},
{"data":{"name":"box"},"mark":{"type":"rule","stroke":"#8c6f66","strokeWidth":1.5,"strokeDash":[4,3]},"encoding":{"x":{"field":"k","type":"nominal","axis":null},"y":{"field":"lo","type":"quantitative","axis":null},"y2":{"field":"q1"}}},
{"data":{"name":"box"},"mark":{"type":"rule","stroke":"#8c6f66","strokeWidth":1.5,"strokeDash":[4,3]},"encoding":{"x":{"field":"k","type":"nominal","axis":null},"y":{"field":"q3","type":"quantitative","axis":null},"y2":{"field":"hi"}}},
{"data":{"name":"box"},"mark":{"type":"tick","size":8,"thickness":2,"color":"#222","opacity":1},"encoding":{"x":{"field":"k","type":"nominal","axis":null},"y":{"field":"lo","type":"quantitative","axis":null}}},
{"data":{"name":"box"},"mark":{"type":"tick","size":8,"thickness":2,"color":"#222","opacity":1},"encoding":{"x":{"field":"k","type":"nominal","axis":null},"y":{"field":"hi","type":"quantitative","axis":null}}},
{"data":{"name":"box"},"mark":{"type":"tick","size":20,"thickness":3,"color":"#4a3b36","opacity":1},"encoding":{"x":{"field":"k","type":"nominal","axis":null},"y":{"field":"med","type":"quantitative","axis":null}}},
{"data":{"name":"sig"},"mark":{"type":"rule","color":"#555","strokeWidth":1},"encoding":{"x":{"field":"a","type":"nominal","axis":null},"x2":{"field":"b"},"y":{"field":"top","type":"quantitative","axis":null}}},
{"data":{"name":"sig"},"mark":{"type":"rule","color":"#555","strokeWidth":1},"encoding":{"x":{"field":"a","type":"nominal","axis":null},"y":{"field":"top","type":"quantitative","axis":null},"y2":{"field":"dl"}}},
{"data":{"name":"sig"},"mark":{"type":"rule","color":"#555","strokeWidth":1},"encoding":{"x":{"field":"b","type":"nominal","axis":null},"y":{"field":"top","type":"quantitative","axis":null},"y2":{"field":"dr"}}},
{"data":{"name":"sig"},"mark":{"type":"text","fontSize":8,"color":"#444","xOffset":15,"dy":-6,"text":"***"},"encoding":{"x":{"field":"a","type":"nominal","axis":null},"y":{"field":"top","type":"quantitative","axis":null}}},
{"data":{"name":"sig"},"mark":{"type":"rule","color":"#222","strokeWidth":1,"xOffset":-9,"x2Offset":8},"encoding":{"x":{"field":"a","type":"nominal","axis":null},"x2":{"field":"b"},"y":{"datum":-2.1,"type":"quantitative","axis":null}}},
{"data":{"name":"sig"},"mark":{"type":"text","fontSize":8.5,"color":"#444","xOffset":15},"encoding":{"x":{"field":"a","type":"nominal","axis":null},"y":{"datum":-2.24,"type":"quantitative","axis":null},"text":{"field":"line"}}},
{"data":{"values":[{"a":"MINO|NTC +","n":"*** p-value < 1E-15"}]},"mark":{"type":"text","fontSize":8.5,"color":"#333","xOffset":10},"encoding":{"x":{"field":"a","type":"nominal","axis":null},"y":{"datum":2,"type":"quantitative","axis":null},"text":{"field":"n"}}}
]},
{"width":280,"height":223,"title":{"text":"F.","dx":-15,"offset":-17},
"resolve":{"axis":{"x":"independent","y":"independent"}},
"layer":[
{"data":{"name":"stack"},"mark":{"type":"bar"},"encoding":{"x":{"field":"g","type":"nominal","sort":null,"scale":{"domain":["Notch-|up|(G1)","Notch-|up|(G2)","Notch-|down","Ctrl.|genes"],"range":[27,175],"paddingInner":0.38,"paddingOuter":0.547,"align":0.747},"axis":{"title":null,"offset":-45,"labelAngle":0,"labelFontSize":8.5,"labelFontWeight":"bold","labelColor":"#333","domainColor":"#111","domainWidth":2,"ticks":false,"labelPadding":4,"labelExpr":"split(datum.value,'|')"}},"y":{"field":"v","type":"quantitative","stack":"zero","scale":{"domain":[0,1],"range":[178,39],"nice":false},"axis":{"title":"percentage of genes","offset":-27,"format":"%","values":[0,0.25,0.5,0.75,1],"grid":false,"domainColor":"#111","domainWidth":2,"tickColor":"#111","tickWidth":1.5,"tickSize":5,"labelFontSize":8.5,"labelColor":"#444","titleFontSize":8.5,"titleFontWeight":"normal","titleColor":"#444","titlePadding":0}},"order":{"field":"o"},"color":{"field":"c","type":"nominal","scale":{"domain":["Proximal only","Proximal & distal","Distal only","CCD only","Not linked"],"range":["#e8552a","#f59a3e","#f3ec5e","#aaa19c","#d6d0cc"]},"legend":{"title":"NTC linkage category","orient":"none","legendX":177,"legendY":67,"symbolType":"square","symbolSize":105,"symbolStrokeWidth":0,"labelFontSize":8.5,"labelColor":"#333","titleFontSize":8.5,"titleFontWeight":"normal","titleColor":"#333","rowPadding":0.5,"labelOffset":4,"titlePadding":4}}}},
{"data":{"name":"err"},"mark":{"type":"rule","color":"#111","strokeWidth":1.5},"encoding":{"x":{"field":"g","type":"nominal","axis":null},"y":{"field":"lo","type":"quantitative","axis":null},"y2":{"field":"hi"}}},
{"data":{"name":"err"},"mark":{"type":"tick","size":7,"thickness":1.5,"color":"#111","opacity":1},"encoding":{"x":{"field":"g","type":"nominal","axis":null},"y":{"field":"hi","type":"quantitative","axis":null}}},
{"data":{"values":[{"a":"Notch-|up|(G1)","hi":1,"lo":0.66},{"a":"Notch-|up|(G1)","hi":0.66,"lo":0.005}]},"mark":{"type":"rule","color":"#666","strokeWidth":0.8,"xOffset":-16.3},"encoding":{"x":{"field":"a","type":"nominal","axis":null},"y":{"field":"hi","type":"quantitative","axis":null},"y2":{"field":"lo"}}},
{"data":{"values":[{"a":"Notch-|up|(G1)","hi":1},{"a":"Notch-|up|(G1)","hi":0.66},{"a":"Notch-|up|(G1)","hi":0.005}]},"mark":{"type":"tick","color":"#666","size":4,"thickness":1,"opacity":1,"xOffset":-14.3},"encoding":{"x":{"field":"a","type":"nominal","axis":null},"y":{"field":"hi","type":"quantitative","axis":null}}},
{"data":{"values":[{"a":"Notch-|up|(G1)","y":0.83,"n":"Unlinked"},{"a":"Notch-|up|(G1)","y":0.33,"n":"Direct Notch targets"}]},"mark":{"type":"text","fontSize":8.5,"color":"#444","angle":270,"xOffset":-24.6},"encoding":{"x":{"field":"a","type":"nominal","axis":null},"y":{"field":"y","type":"quantitative","axis":null},"text":{"field":"n"}}},
{"data":{"values":[{"a":"Ctrl.|genes","hi":0.7,"lo":0.34}]},"mark":{"type":"rect","fill":"transparent","stroke":"#111","strokeWidth":1,"xOffset":20.3,"x2Offset":31},"encoding":{"x":{"field":"a","type":"nominal","axis":null},"x2":{"field":"a"},"y":{"field":"hi","type":"quantitative","axis":null},"y2":{"field":"lo"}}}
]}]}
]}
